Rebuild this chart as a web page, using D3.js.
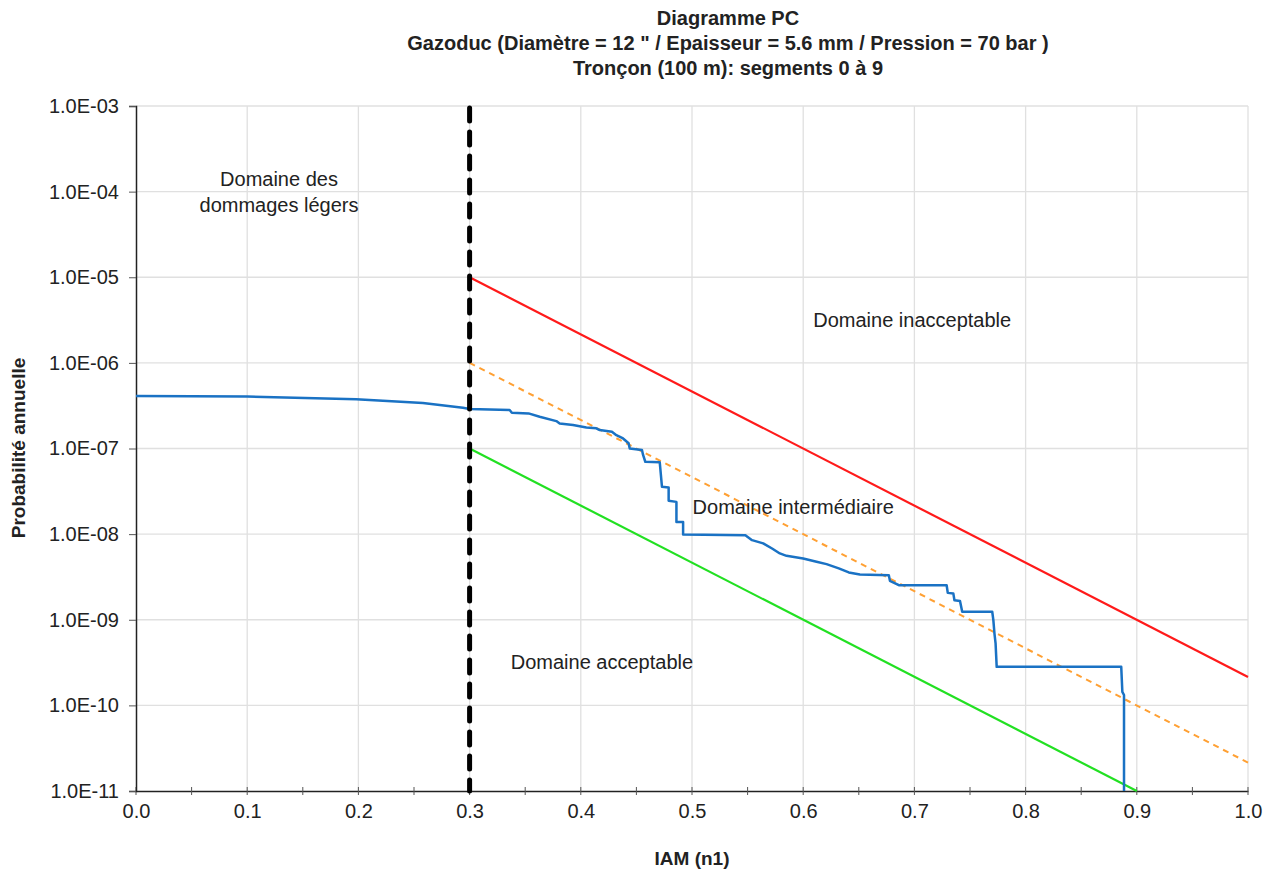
<!DOCTYPE html>
<html>
<head>
<meta charset="utf-8">
<script src="https://cdn.jsdelivr.net/npm/d3@7"></script>
<style>
  body { margin: 0; background: #fff; }
  text { font-family: "Liberation Sans", Arial, sans-serif; fill: #222; }
</style>
</head>
<body>
<div id="chart"></div>
<script>
// titres
var titleLines = ["Diagramme PC",
  "Gazoduc (Diamètre = 12 \" / Epaisseur = 5.6 mm / Pression = 70 bar )",
  "Tronçon (100 m): segments 0 à 9"];

// ticks
var xTicks = [0, 0.1, 0.2, 0.3, 0.4, 0.5, 0.6, 0.7, 0.8, 0.9, 1.0];
var yTicks = [1e-3, 1e-4, 1e-5, 1e-6, 1e-7, 1e-8, 1e-9, 1e-10, 1e-11];

// limite IAM
var limitX = 0.3;

// droites de criteres
var redX = [0.3, 1.0];
var redY = [1e-5, 2.15e-10];
var orangeX = [0.3, 1.0];
var orangeY = [1e-6, 2.15e-11];
var greenX = [0.3, 0.9];
var greenY = [1e-7, 1e-11];

// courbe PC
var pcX = [0.000, 0.100, 0.198, 0.258, 0.294, 0.300, 0.336, 0.338, 0.353, 0.363,
  0.378, 0.381, 0.393, 0.405, 0.414, 0.417, 0.428, 0.432, 0.438, 0.443,
  0.444, 0.455, 0.456, 0.458, 0.471, 0.473, 0.479, 0.479, 0.486, 0.486,
  0.492, 0.492, 0.548, 0.554, 0.564, 0.572, 0.579, 0.585, 0.600, 0.612,
  0.621, 0.632, 0.641, 0.651, 0.677, 0.678, 0.686, 0.729, 0.730, 0.735,
  0.736, 0.741, 0.743, 0.770, 0.771, 0.772, 0.773, 0.774, 0.886, 0.887,
  0.8885, 0.8885];
var pcY = [4.1e-7, 4.05e-7, 3.75e-7, 3.39e-7, 2.99e-7, 2.9e-7, 2.81e-7, 2.61e-7, 2.57e-7, 2.35e-7,
  2.09e-7, 1.96e-7, 1.88e-7, 1.76e-7, 1.72e-7, 1.64e-7, 1.57e-7, 1.43e-7, 1.31e-7, 1.15e-7,
  1.0e-7, 9.6e-8, 8.4e-8, 7.0e-8, 6.9e-8, 3.57e-8, 3.5e-8, 2.45e-8, 2.38e-8, 1.39e-8,
  1.39e-8, 9.9e-9, 9.7e-9, 8.5e-9, 7.8e-9, 6.8e-9, 5.95e-9, 5.58e-9, 5.2e-9, 4.75e-9,
  4.46e-9, 3.98e-9, 3.57e-9, 3.38e-9, 3.32e-9, 2.85e-9, 2.53e-9, 2.53e-9, 2.06e-9, 2.03e-9,
  1.69e-9, 1.66e-9, 1.24e-9, 1.24e-9, 9.9e-10, 6.9e-10, 5.3e-10, 2.82e-10, 2.82e-10, 1.44e-10,
  1.32e-10, 1e-11];

// textes des domaines
var labels = [
  { t: "Domaine des", x: 0.1286, y: 1.33e-4 },
  { t: "dommages légers", x: 0.1286, y: 6.6e-5 },
  { t: "Domaine inacceptable", x: 0.698, y: 3.0e-6 },
  { t: "Domaine intermédiaire", x: 0.591, y: 1.96e-8 },
  { t: "Domaine acceptable", x: 0.419, y: 3.1e-10 }
];

var W = 1264, H = 871;
var margin = { left: 136, right: 16, top: 106, bottom: 80 };

var svg = d3.select("#chart").append("svg")
  .attr("width", W)
  .attr("height", H);

var x = d3.scaleLinear().domain([0, 1]).range([margin.left, 1248]);
var y = d3.scaleLog().domain([1e-11, 1e-3]).range([791, margin.top]);

// grille
svg.append("g").selectAll("line").data(xTicks.slice(1)).enter().append("line")
  .attr("x1", d => x(d)).attr("x2", d => x(d))
  .attr("y1", y(1e-3)).attr("y2", y(1e-11))
  .attr("stroke", "#e0e0e0").attr("stroke-width", 1.3);
svg.append("g").selectAll("line").data(yTicks.slice(0, -1)).enter().append("line")
  .attr("x1", x(0)).attr("x2", x(1))
  .attr("y1", d => y(d)).attr("y2", d => y(d))
  .attr("stroke", "#e0e0e0").attr("stroke-width", 1.3);

// axes
var xAxis = d3.axisBottom(x).tickValues(xTicks).tickFormat(d3.format(".1f")).tickSize(0).tickPadding(13);
var gx = svg.append("g").attr("transform", "translate(0," + y(1e-11) + ")").call(xAxis);
gx.select(".domain").attr("stroke", "#222").attr("stroke-width", 1.5);
gx.selectAll("text").attr("font-size", 20).attr("fill", "#222")
  .attr("font-family", "Liberation Sans, Arial, sans-serif");

// petites graduations x (toutes les 0.05)
var xMinor = d3.range(0, 21).map(i => i / 20);
svg.append("g").selectAll("line").data(xMinor).enter().append("line")
  .attr("x1", d => x(d)).attr("x2", d => x(d))
  .attr("y1", y(1e-11) - 4).attr("y2", y(1e-11) + 4)
  .attr("stroke", "#555").attr("stroke-width", 1);

var yAxis = d3.axisLeft(y).tickValues(yTicks)
  .tickFormat(d => d.toExponential(1).replace("e-", "E-").replace(/E-(\d)$/, "E-0$1"))
  .tickSize(7).tickPadding(10);
var gy = svg.append("g").attr("transform", "translate(" + x(0) + ",0)").call(yAxis);
gy.select(".domain").attr("stroke", "#222").attr("stroke-width", 1.5);
gy.selectAll(".tick line").attr("stroke", "#555");
gy.selectAll("text").attr("font-size", 20).attr("fill", "#222")
  .attr("font-family", "Liberation Sans, Arial, sans-serif");

var line = d3.line().x(d => x(d[0])).y(d => y(d[1]));
var zip = (a, b) => a.map((v, i) => [v, b[i]]);

// droites
svg.append("path").attr("d", line(zip(redX, redY)))
  .attr("fill", "none").attr("stroke", "#ff1a1a").attr("stroke-width", 2.2);
svg.append("path").attr("d", line(zip(orangeX, orangeY)))
  .attr("fill", "none").attr("stroke", "#ffa033").attr("stroke-width", 2)
  .attr("stroke-dasharray", "6,5");
svg.append("path").attr("d", line(zip(greenX, greenY)))
  .attr("fill", "none").attr("stroke", "#22e022").attr("stroke-width", 2.2);

// courbe PC
svg.append("path").attr("d", line(zip(pcX, pcY)))
  .attr("fill", "none").attr("stroke", "#1a72c4").attr("stroke-width", 2.5)
  .attr("stroke-linejoin", "round");

// limite verticale
svg.append("line")
  .attr("x1", x(limitX)).attr("x2", x(limitX))
  .attr("y1", y(1e-3) + 2).attr("y2", y(1e-11))
  .attr("stroke", "#000").attr("stroke-width", 5)
  .attr("stroke-linecap", "round").attr("stroke-dasharray", "13,11");

// textes
svg.append("g").selectAll("text").data(labels).enter().append("text")
  .attr("x", d => x(d.x)).attr("y", d => y(d.y))
  .attr("text-anchor", "middle").attr("dominant-baseline", "middle")
  .attr("font-size", 20)
  .text(d => d.t);

// titre
svg.append("g").selectAll("text").data(titleLines).enter().append("text")
  .attr("x", 728).attr("y", (d, i) => 25 + i * 25)
  .attr("text-anchor", "middle")
  .attr("font-size", 20).attr("font-weight", "bold")
  .text(d => d);

// titres des axes
svg.append("text").attr("x", 692).attr("y", 865)
  .attr("text-anchor", "middle").attr("font-size", 19).attr("font-weight", "bold")
  .text("IAM (n1)");
svg.append("text")
  .attr("transform", "translate(25,448) rotate(-90)")
  .attr("text-anchor", "middle").attr("font-size", 19).attr("font-weight", "bold")
  .text("Probabilité annuelle");
</script>
</body>
</html>
